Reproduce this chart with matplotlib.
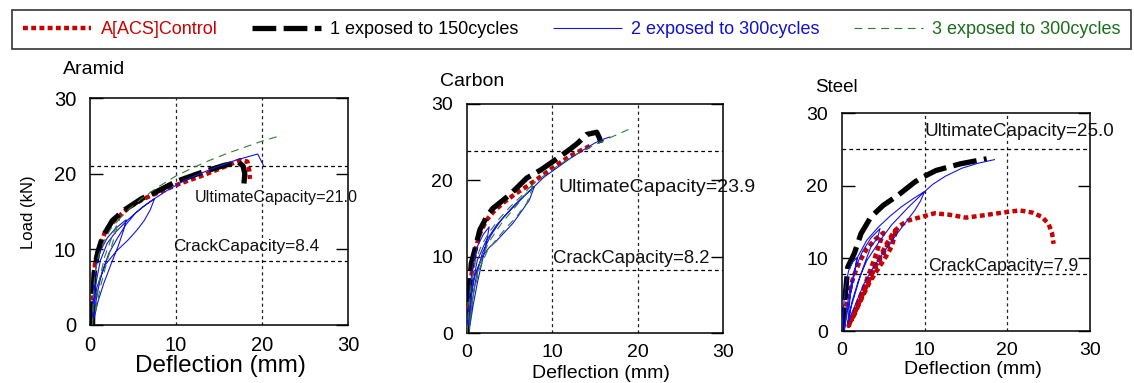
import matplotlib
matplotlib.use("Agg")
import matplotlib.pyplot as plt

plt.rcParams['font.family'] = ['Liberation Sans', 'DejaVu Sans']

# ---------------- data ----------------
series_labels = ["A[ACS]Control", "1 exposed to 150cycles", "2 exposed to 300cycles", "3 exposed to 300cycles"]
panel_titles = ["Aramid", "Carbon", "Steel"]
ultimate_capacity = [21.0, 23.9, 25.0]
crack_capacity = [8.4, 8.2, 7.9]
axis_ticks = [0, 10, 20, 30]

# Aramid
aramid_control_x = [0.3, 0.4, 0.6, 1.0, 1.8, 3.0, 4.6, 6.3, 8.1, 10.5, 13.2, 15.6, 17.5, 18.3, 18.5, 18.6]
aramid_control_y = [0.0, 5.0, 8.5, 9.9, 12.5, 14.0, 15.6, 16.7, 17.6, 18.7, 19.8, 20.9, 21.8, 21.6, 20.5, 19.3]
aramid_150_x = [0.3, 0.35, 0.47, 0.9, 1.45, 2.6, 4.0, 6.0, 7.7, 10.1, 12.8, 15.6, 17.3, 17.8, 18.0, 17.9]
aramid_150_y = [0.0, 3.5, 6.8, 9.6, 11.6, 13.8, 15.2, 16.7, 17.6, 19.0, 20.1, 21.1, 21.5, 21.0, 20.0, 18.7]
aramid_300a_x = [0.3, 0.35, 0.5, 0.8, 1.3, 2.0, 3.0, 4.2,
                 3.9, 3.3, 2.5, 1.6, 0.9, 0.5,
                 0.8, 1.4, 2.2, 3.2, 4.2, 5.3, 6.5, 7.5,
                 7.0, 6.3, 5.5, 4.4, 3.1, 1.8, 0.8, 0.3,
                 0.6, 1.2, 2.0, 3.0, 4.5, 6.0, 7.5,
                 9.0, 11.0, 13.0, 15.0, 17.0, 19.5, 20.2]
aramid_300a_y = [0.0, 3.0, 6.0, 8.3, 10.0, 11.5, 12.8, 13.9,
                 12.5, 10.5, 8.2, 5.5, 3.0, 1.0,
                 4.0, 7.0, 9.5, 11.5, 13.3, 14.8, 15.9, 16.7,
                 15.2, 13.8, 12.6, 11.2, 9.8, 8.0, 5.0, 1.3,
                 5.0, 8.5, 10.8, 12.3, 14.0, 15.5, 16.7,
                 17.8, 19.1, 20.1, 21.0, 21.8, 22.6, 21.0]
aramid_300b_x = [0.3, 0.4, 0.6, 1.0, 1.6, 2.4, 3.4, 2.8, 2.0, 1.2, 0.6, 1.0, 1.7, 2.6, 3.4,
                 4.5, 6.0, 8.0, 10.0, 12.0, 14.0, 16.0, 18.0, 20.0, 21.8]
aramid_300b_y = [0.0, 4.0, 7.0, 9.2, 11.0, 12.7, 14.0, 11.5, 8.5, 5.0, 1.5, 5.5, 9.0, 11.8, 14.0,
                 15.3, 16.7, 18.3, 19.7, 20.8, 21.8, 22.7, 23.5, 24.3, 24.9]

# Carbon
carbon_control_x = [0.0, 0.2, 0.4, 0.7, 1.0, 1.5, 2.3, 3.2, 4.2, 5.5, 7.0, 8.9, 10.5, 12.1, 13.3, 14.4]
carbon_control_y = [0.0, 3.5, 6.5, 9.1, 11.0, 13.0, 14.8, 16.0, 17.0, 18.1, 19.2, 20.7, 22.0, 23.2, 23.9, 24.5]
carbon_150_x = [0.0, 0.1, 0.3, 0.5, 0.9, 1.5, 2.3, 3.0, 5.0, 7.0, 8.7, 10.5, 12.1, 13.0, 14.0, 15.2, 15.5, 15.7]
carbon_150_y = [0.0, 2.9, 6.5, 9.1, 10.8, 13.5, 15.2, 16.3, 18.1, 20.3, 21.4, 22.8, 24.1, 24.9, 26.0, 26.3, 25.6, 24.9]
carbon_300a_x = [0.0, 0.15, 0.35, 0.7, 1.2, 1.9, 2.6,
                 2.3, 1.8, 1.2, 0.7, 0.35,
                 0.6, 1.1, 1.8, 2.8, 4.0, 5.5, 6.8, 7.9,
                 7.3, 6.3, 5.4, 4.4, 3.4, 2.6, 1.9, 1.3, 0.9, 0.5, 0.3, 0.2,
                 0.6, 1.2, 2.2, 3.5, 5.0, 6.5, 7.9,
                 9.0, 10.5, 12.0, 13.5, 15.0, 16.0, 16.8]
carbon_300a_y = [0.0, 3.0, 6.0, 9.0, 11.3, 12.9, 13.9,
                 12.0, 9.5, 6.5, 3.5, 1.0,
                 4.0, 7.5, 10.5, 12.8, 14.8, 16.7, 18.1, 19.2,
                 17.4, 15.8, 14.4, 13.2, 12.0, 11.2, 10.2, 8.7, 7.4, 4.8, 3.0, 1.0,
                 6.0, 9.5, 12.0, 14.2, 16.0, 17.7, 19.2,
                 20.4, 21.6, 22.8, 23.9, 24.9, 25.4, 25.7]
carbon_300b_x = [0.0, 0.2, 0.5, 1.0, 1.7, 2.6, 3.8, 5.2, 6.7, 7.8,
                 7.5, 7.0, 6.3, 5.8, 4.6, 3.4, 2.4, 1.5, 0.8, 0.4, 0.3,
                 0.7, 1.4, 2.5, 4.0, 5.5, 7.0, 7.8,
                 9.0, 10.5, 12.0, 14.0, 16.0, 17.0, 19.0]
carbon_300b_y = [0.0, 3.0, 6.5, 9.5, 11.5, 13.2, 15.0, 16.7, 18.3, 19.6,
                 18.5, 17.0, 16.0, 15.2, 13.8, 12.2, 10.8, 8.5, 5.5, 2.5, 0.5,
                 5.0, 8.8, 11.8, 14.3, 16.3, 18.3, 19.6,
                 20.6, 21.8, 22.9, 24.1, 25.2, 25.7, 26.7]

# Steel
steel_control_x = [0.0, 0.2, 0.5, 0.9, 1.4, 2.1, 3.0, 4.0, 5.0,
                   4.6, 4.0, 3.3, 2.6, 1.9, 1.3, 0.8,
                   1.5, 2.3, 3.1, 4.0, 4.9, 5.6, 6.2, 6.6,
                   6.3, 6.0, 5.4, 4.8, 4.0, 3.3, 2.6, 1.9, 1.4, 0.9,
                   1.8, 2.7, 3.6, 4.5, 5.4, 6.2, 7.0, 8.0, 9.6, 11.2, 13.0, 15.0, 17.0, 19.5,
                   21.5, 23.0, 24.2, 25.0, 25.4, 25.6]
steel_control_y = [0.0, 1.5, 3.5, 5.5, 7.5, 9.5, 11.3, 12.6, 13.5,
                   12.2, 10.2, 8.0, 5.8, 3.8, 2.0, 0.7,
                   2.5, 4.8, 6.8, 8.8, 10.5, 12.0, 13.2, 14.1,
                   12.8, 11.6, 10.4, 9.3, 7.9, 6.6, 5.0, 3.3, 2.0, 1.1,
                   3.2, 5.5, 7.8, 10.0, 12.0, 13.5, 14.5, 15.2, 15.7, 16.2, 16.0, 15.6, 15.9, 16.3,
                   16.6, 16.3, 15.7, 14.7, 13.5, 12.0]
steel_150_x = [0.0, 0.1, 0.4, 0.7, 1.5, 2.3, 3.5, 5.0, 6.8, 8.8, 9.8, 11.4, 14.3, 17.5]
steel_150_y = [0.0, 1.0, 5.0, 8.8, 10.7, 13.4, 15.7, 17.3, 18.7, 20.5, 21.2, 22.1, 23.0, 23.7]
steel_300a_x = [0.0, 0.15, 0.4, 0.8, 1.3, 1.8,
                1.5, 1.1, 0.7, 0.4, 0.3,
                0.6, 1.0, 1.6, 2.5, 3.5, 4.6,
                4.3, 3.5, 2.9, 2.3, 1.7, 1.1, 0.7,
                1.0, 1.5, 1.9, 3.0, 4.4, 5.8, 7.2, 8.6, 10.0,
                9.5, 8.8, 7.6, 6.4, 5.4, 4.4, 3.5, 2.7, 2.1, 1.5, 1.0, 0.7,
                1.2, 2.0, 3.0, 4.5, 6.0, 8.0, 10.0,
                11.0, 12.5, 14.5, 16.5, 18.5]
steel_300a_y = [0.0, 3.0, 6.0, 8.3, 9.5, 10.1,
                8.0, 5.5, 3.0, 1.0, 0.2,
                3.3, 6.0, 8.6, 11.0, 12.8, 14.1,
                12.8, 11.6, 9.8, 7.9, 5.6, 3.3, 1.0,
                5.0, 8.0, 10.2, 12.5, 14.3, 15.8, 17.1, 18.2, 19.2,
                17.9, 16.6, 14.8, 13.0, 11.4, 9.8, 8.2, 6.6, 5.0, 3.3, 2.0, 1.1,
                4.0, 7.0, 9.7, 12.3, 14.6, 17.0, 19.2,
                20.2, 21.3, 22.4, 23.1, 23.6]

panel_data = [
    [(aramid_control_x, aramid_control_y), (aramid_150_x, aramid_150_y),
     (aramid_300a_x, aramid_300a_y), (aramid_300b_x, aramid_300b_y)],
    [(carbon_control_x, carbon_control_y), (carbon_150_x, carbon_150_y),
     (carbon_300a_x, carbon_300a_y), (carbon_300b_x, carbon_300b_y)],
    [(steel_control_x, steel_control_y), (steel_150_x, steel_150_y),
     (steel_300a_x, steel_300a_y), None],
]

# ---------------- style ----------------
W, H = 1134, 383
fig = plt.figure(figsize=(W / 100, H / 100), dpi=100)

def px_axes(left, top, right, bottom):
    return fig.add_axes([left / W, 1 - bottom / H, (right - left) / W, (bottom - top) / H])

axes_px = [(90, 98, 348, 325), (467, 104, 723, 333), (842, 113, 1090, 331)]
styles = [
    dict(color='#c80000', lw=3.2, linestyle=(0, (1.1, 0.75)), zorder=3),
    dict(color='black', lw=3.8, linestyle=(0, (4.5, 1.4)), zorder=4),
    dict(color='#1515e6', lw=0.8, linestyle='-', zorder=5),
    dict(color='#2e7d32', lw=0.8, linestyle=(0, (7, 5)), zorder=6),
]
text_colors = ['#cc0000', 'black', '#1010d0', '#1a6e1a']

tick_fs = [14.5, 14, 14]
title_pos = [(63, 70), (440, 82), (815, 88)]
title_fs = [14, 14, 13.5]
xlabel_pos = [(220, 366, 17.5), (601, 373, 14), (973, 370, 14)]
ult_text = [(12.2, 16.9, 11.6), (10.7, 19.0, 14.0), (10.0, 27.4, 13.6)]
crack_text = [(9.65, 10.4, 12.4), (10.1, 9.8, 13.3), (10.4, 8.9, 12.8)]

handles = []
for i, (l, t, r, b) in enumerate(axes_px):
    ax = px_axes(l, t, r, b)
    for j, s in enumerate(panel_data[i]):
        if s is None:
            continue
        ln, = ax.plot(s[0], s[1], solid_capstyle='butt', dash_capstyle='butt',
                      solid_joinstyle='round', dash_joinstyle='round', **styles[j])
        if i == 0:
            handles.append(ln)
    ax.set_xlim(0, 30)
    ax.set_ylim(0, 30)
    ax.set_xticks(axis_ticks)
    ax.set_yticks(axis_ticks)
    ax.tick_params(axis='y', direction='in', length=9, width=1, left=True, right=True,
                   labelsize=tick_fs[i], pad=10)
    ax.tick_params(axis='x', length=0, labelsize=tick_fs[i], pad=8)
    for sp in ax.spines.values():
        sp.set_linewidth(1.1)
    for xv in (10, 20):
        ax.axvline(xv, color='#222222', lw=0.9, linestyle=(0, (2.5, 2.5)), zorder=1)
    ax.axhline(ultimate_capacity[i], color='black', lw=0.9, linestyle=(0, (3, 2.5)), zorder=1)
    ax.axhline(crack_capacity[i], color='black', lw=0.9, linestyle=(0, (3, 2.5)), zorder=1)
    ux, uy, ufs = ult_text[i]
    ax.text(ux, uy, "UltimateCapacity=%.1f" % ultimate_capacity[i], fontsize=ufs,
            va='center', ha='left', clip_on=False, zorder=7, color='#111111')
    cx, cy, cfs = crack_text[i]
    ax.text(cx, cy, "CrackCapacity=%.1f" % crack_capacity[i], fontsize=cfs,
            va='center', ha='left', clip_on=False, zorder=7, color='#111111')
    tx, ty = title_pos[i]
    fig.text(tx / W, 1 - ty / H, panel_titles[i], fontsize=title_fs[i], ha='left', va='center')
    xx, xy, xfs = xlabel_pos[i]
    fig.text(xx / W, 1 - xy / H, "Deflection (mm)", fontsize=xfs, ha='center', va='center')

fig.text(29 / W, 1 - 212 / H, "Load (kN)", fontsize=12, rotation=90, ha='center', va='center')

leg = fig.legend(handles, series_labels, loc='upper left',
                 bbox_to_anchor=(12 / W, 1 - 47 / H, 1119 / W, 37 / H), mode='expand',
                 ncol=4, frameon=True, fancybox=False, edgecolor='black', fontsize=13,
                 handlelength=3.8, handletextpad=0.5, borderaxespad=0, borderpad=0.6)
leg.get_frame().set_linewidth(1.2)
for txt, c in zip(leg.get_texts(), text_colors):
    txt.set_color(c)

fig.savefig("out.png", dpi=100)
